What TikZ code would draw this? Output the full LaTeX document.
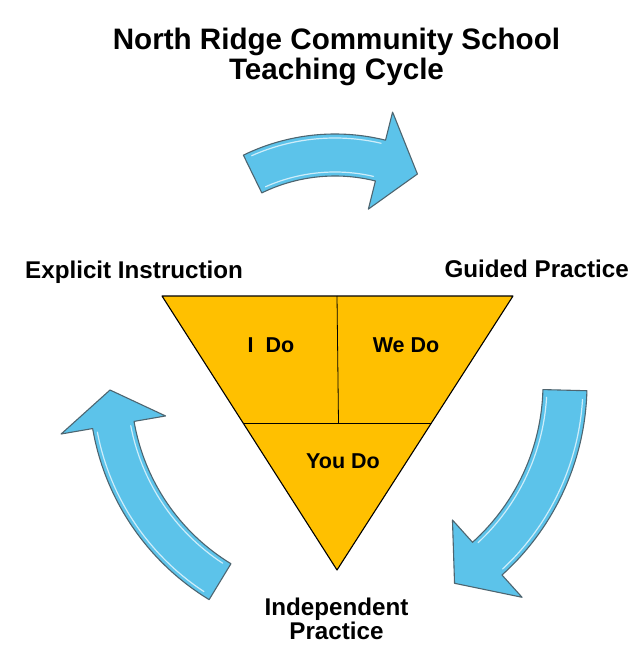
\documentclass[tikz,border=0pt]{standalone}
\usepackage{fontspec}
\setmainfont{Liberation Sans}
\definecolor{cycleblue}{HTML}{5CC3EA}
\definecolor{cycleedge}{HTML}{4E6570}
\definecolor{stagegold}{HTML}{FFC000}
% #1 centre, #2 radius, #3 tail angle, #4 head angle, #5 tip angle,
% #6 half body width, #7 half head width, #8 name of the tip
\newcommand{\bentarrow}[8]{%
  \begin{scope}[shift={#1}]
    \draw[cyclearrow] (#3:#2+#6) arc[start angle=#3, end angle=#4, radius=#2+#6]
      -- (#4:#2+#7) -- (#5:#2) coordinate (#8) -- (#4:#2-#7) -- (#4:#2-#6)
      arc[start angle=#4, end angle=#3, radius=#2-#6] -- cycle;
    \draw[shine] (#3-2:#2+#6-4) arc[start angle=#3-2, end angle=#4+1, radius=#2+#6-4];
    \draw[shine] (#3-2:#2-#6+4) arc[start angle=#3-2, end angle=#4+1, radius=#2-#6+4];
  \end{scope}}
\begin{document}
\begin{tikzpicture}[x=1pt, y=1pt,
    cyclearrow/.style={draw=cycleedge, fill=cycleblue, line width=1.1pt, line join=round},
    shine/.style={draw=cyan!8, line width=1.2pt, line cap=round, opacity=0.8},
    heading/.style={inner sep=0pt, font=\bfseries\fontsize{29.6}{30}\selectfont},
    phase/.style={inner sep=0pt, font=\bfseries\fontsize{24.2}{24}\selectfont},
    stagetext/.style={inner sep=0pt, font=\bfseries\fontsize{21.5}{22}\selectfont}]
  \useasboundingbox (0,0) rectangle (631,-655);
  % title
  \node[heading, anchor=base] (title) at (336.5,-50) {North Ridge Community School};
  \node[heading, anchor=base] (subtitle) at (336.5,-80) {Teaching Cycle};
  % the three arrows of the cycle
  \bentarrow{(335,-343)}{188}{116}{76}{64}{21}{50}{toptip}
  \bentarrow{(330,-384)}{235}{-1.5}{-48}{-58}{22}{52}{righttip}
  \bentarrow{(339,-386)}{229}{238.7}{189.8}{181}{21}{53}{lefttip}
  % triangle
  \coordinate (tl) at (162,-296);
  \coordinate (tr) at (513,-296);
  \coordinate (apex) at (337,-570);
  \coordinate (tm) at (337,-296);
  \coordinate (ml) at (243,-423);
  \coordinate (mr) at (431,-423);
  \coordinate (mm) at (338.5,-423);
  \draw[fill=stagegold, line width=1.1pt, line join=round] (tl) -- (tr) -- (apex) -- cycle;
  \draw[line width=0.8pt] (ml) -- (mr);
  \draw[line width=0.8pt] (tm) -- (mm);
  \node[stagetext, anchor=base] (ido) at (271,-352) {I\ \ Do};
  \node[stagetext, anchor=base] (wedo) at (406,-352) {We Do};
  \node[stagetext, anchor=base] (youdo) at (343,-468) {You Do};
  % phase labels
  \node[phase, anchor=base west] (explicit) at (25,-278) {Explicit Instruction};
  \node[phase, anchor=base east] (guided) at (629,-277) {Guided Practice};
  \node[phase, anchor=base] (indep) at (336.5,-615) {Independent};
  \node[phase, anchor=base] (practice) at (336.5,-639) {Practice};
\end{tikzpicture}
\end{document}
